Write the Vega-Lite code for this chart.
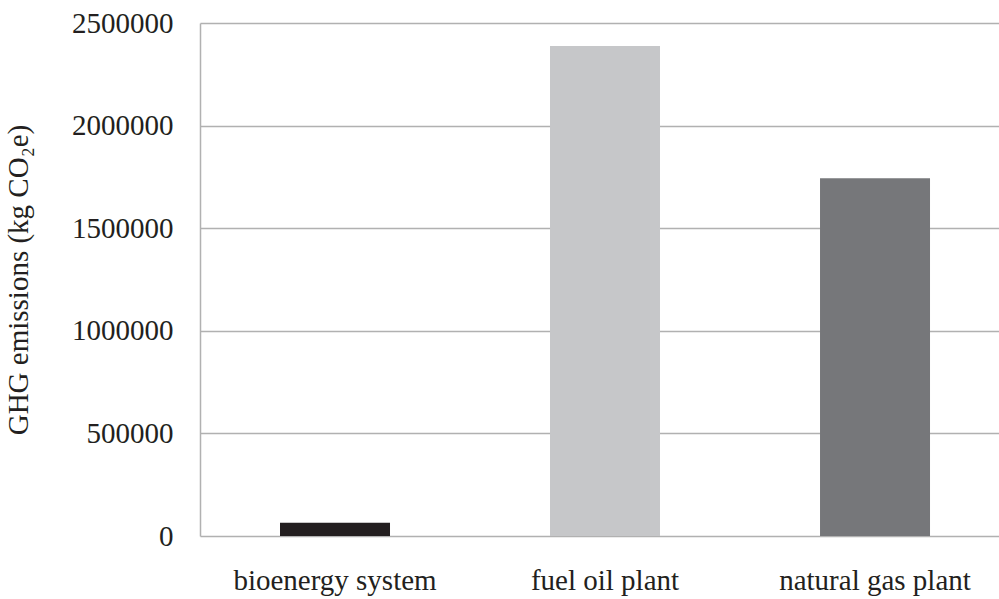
{
  "$schema": "https://vega.github.io/schema/vega-lite/v6.json",
  "autosize": {"type": "none"},
  "width": 799,
  "height": 513,
  "padding": {"left": 200, "top": 23, "right": 0, "bottom": 63},
  "background": "white",
  "config": {
    "view": {"stroke": null},
    "font": "Liberation Serif"
  },
  "data": {
    "values": [
      {"system": "bioenergy system", "ghg": 65000},
      {"system": "fuel oil plant", "ghg": 2388000},
      {"system": "natural gas plant", "ghg": 1743000}
    ]
  },
  "mark": {"type": "bar"},
  "encoding": {
    "x": {
      "field": "system",
      "type": "nominal",
      "sort": null,
      "scale": {"paddingInner": 0.5926, "paddingOuter": 0.2759, "align": 0.537},
      "axis": {
        "title": null,
        "labelAngle": 0,
        "labelFont": "Liberation Serif",
        "labelFontSize": 29,
        "labelColor": "#231f20",
        "labelPadding": 30,
        "labelLimit": 0,
        "ticks": false,
        "domain": false
      }
    },
    "y": {
      "field": "ghg",
      "type": "quantitative",
      "scale": {"domain": [0, 2500000], "nice": false},
      "axis": {
        "title": "GHG emissions (kg CO₂e)",
        "titleFont": "Liberation Serif",
        "titleFontSize": 29,
        "titleFontWeight": "normal",
        "titleColor": "#231f20",
        "titlePadding": 38,
        "values": [0, 500000, 1000000, 1500000, 2000000, 2500000],
        "format": "d",
        "labelFont": "Liberation Serif",
        "labelFontSize": 29,
        "labelColor": "#231f20",
        "labelPadding": 27,
        "ticks": false,
        "domain": true,
        "domainColor": "#b1b1b1",
        "domainWidth": 1.5,
        "grid": true,
        "gridColor": "#b1b1b1",
        "gridWidth": 1.5
      }
    },
    "color": {
      "field": "system",
      "type": "nominal",
      "sort": null,
      "scale": {
        "domain": ["bioenergy system", "fuel oil plant", "natural gas plant"],
        "range": ["#231f20", "#c6c7c9", "#76777a"]
      },
      "legend": null
    }
  }
}
